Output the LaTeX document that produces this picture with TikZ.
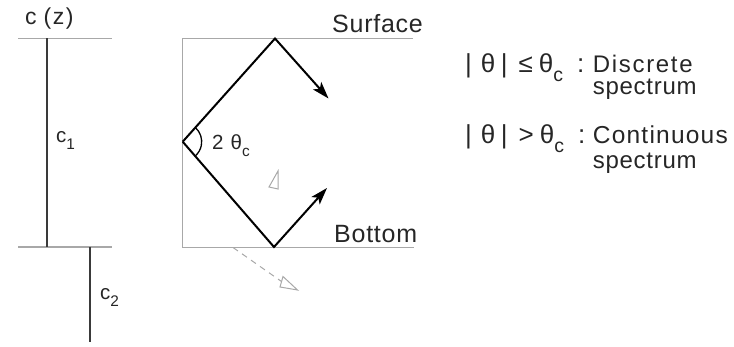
\documentclass[tikz,border=0pt]{standalone}
\usepackage{fontspec}
\setmainfont{Liberation Sans}
\newfontfamily\spaced[LetterSpace=3]{Liberation Sans}
\newfontfamily\wide[LetterSpace=7]{Liberation Sans}
\newfontfamily\cont[LetterSpace=5]{Liberation Sans}
\newfontfamily\slight[LetterSpace=3]{Liberation Sans}
\usetikzlibrary{arrows.meta}
\newcommand{\mysub}[1]{\raisebox{-0.34em}{\scalebox{0.75}{#1}}}
\definecolor{txt}{HTML}{262626}
\definecolor{lgray}{HTML}{A8A8A8}
\definecolor{dgray}{HTML}{3A3A3A}
\tikzset{
  lbl/.style={anchor=base west, inner sep=0pt, text=txt},
  big/.style={font=\slight\fontsize{25}{25}\selectfont},
  mid/.style={font=\spaced\fontsize{24}{24}\selectfont},
  midwide/.style={font=\wide\fontsize{24}{24}\selectfont},
  keyf/.style={font=\fontsize{26}{26}\selectfont},
  small/.style={font=\fontsize{20.5}{20}\selectfont},
  guide/.style={draw=lgray, line width=1.4pt},
  profile/.style={draw=dgray, line width=2.2pt},
  ray/.style={draw=black, line width=2pt},
  rayarrow/.style={ray, -{Stealth[length=17pt,width=11pt,inset=4pt]}},
  ghost/.style={draw=lgray, line width=1pt},
}
\begin{document}
\begin{tikzpicture}[x=1pt,y=-1pt]
\useasboundingbox (0,0) rectangle (734,347);
% sound speed profile
\coordinate (lt1) at (18,38.5);
\coordinate (lt2) at (112,38.5);
\coordinate (lb1) at (18,247);
\coordinate (lb2) at (112,247);
\coordinate (c1t) at (47,38.5);
\coordinate (c1b) at (47,247);
\coordinate (c2t) at (90,247);
\coordinate (c2b) at (90,342);
\draw[guide] (lt1) -- (lt2);
\draw[guide] (lb1) -- (lb2);
\draw[profile] (c1t) -- (c1b);
\draw[profile] (c2t) -- (c2b);
\node[lbl, font=\fontsize{23}{23}\selectfont] (cz) at (25,25) {c\hspace{7pt}(\hspace{1.5pt}z\hspace{1.5pt})};
\node[lbl, small] (c1) at (56,143) {c\mysub{1}};
\node[lbl, small] (c2) at (100,300) {c\mysub{2}};
% waveguide
\coordinate (wtl) at (182.7,38.5);
\coordinate (wbl) at (182.7,247.5);
\coordinate (wtr) at (413,38.5);
\coordinate (wbr) at (414,247.5);
\draw[guide] (wtr) -- (wtl) -- (wbl) -- (wbr);
\node[lbl, big] (surf) at (332,33) {Surface};
\node[lbl, big] (bott) at (334,243) {Bottom};
% rays
\coordinate (V) at (182.7,141.7);
\coordinate (T) at (275,38.5);
\coordinate (A1) at (328.5,98.5);
\coordinate (B) at (274,247);
\coordinate (A2) at (327,188);
\draw[rayarrow] (V) -- (T) -- (A1);
\draw[rayarrow] (V) -- (B) -- (A2);
\draw[draw=black, line width=1.3pt] (V) ++(-48:19) arc[start angle=-48, end angle=49, radius=19];
\node[lbl, small] (ang) at (212,150) {2\hspace{7pt}θ\mysub{c}};
% faint leaking ray
\coordinate (g1) at (278,171);
\coordinate (g2) at (269,187);
\coordinate (g3) at (278,189);
\draw[ghost] (g1) -- (g2) -- (g3) -- cycle;
\coordinate (d1) at (233,247.5);
\coordinate (d2) at (281.5,281.5);
\coordinate (h1) at (283,276.5);
\coordinate (h2) at (297.5,290);
\coordinate (h3) at (280,287);
\draw[ghost, dash pattern=on 6pt off 5pt] (d1) -- (d2);
\draw[ghost] (h1) -- (h2) -- (h3) -- cycle;
% legend
\node[lbl, keyf] (k1) at (465,72.5) {|\hspace{9pt}θ\hspace{5.5pt}|\hspace{11pt}≤\hspace{6pt}θ\mysub{c}\hspace{14pt}:};
\node[lbl, midwide] (w1) at (592.7,72.5) {Discrete};
\node[lbl, mid] (s1) at (592.7,95) {spectrum};
\node[lbl, keyf] (k2) at (465,144) {|\hspace{9pt}θ\hspace{5.5pt}|\hspace{11pt}>\hspace{6pt}θ\mysub{c}\hspace{14pt}:};
\node[lbl, font=\cont\fontsize{24.5}{24}\selectfont] (w2) at (592.7,144) {Continuous};
\node[lbl, mid] (s2) at (592.7,169) {spectrum};
\end{tikzpicture}
\end{document}
